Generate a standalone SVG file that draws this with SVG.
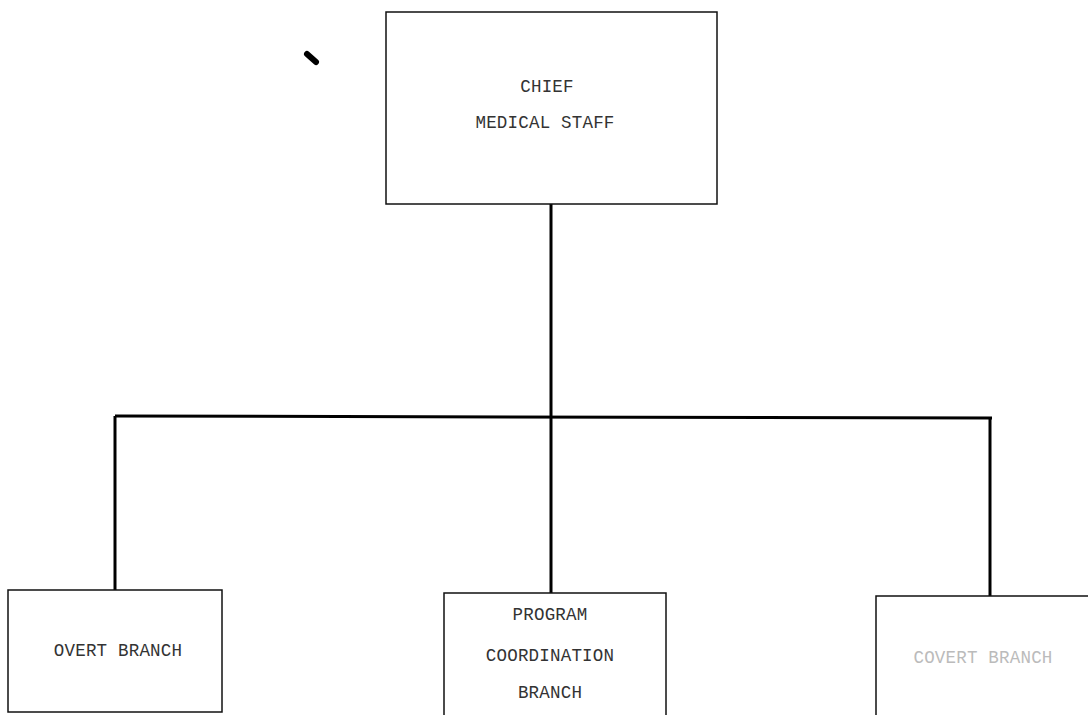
<svg xmlns="http://www.w3.org/2000/svg" width="1088" height="715" viewBox="0 0 1088 715">
<style>
.box{fill:#fff;stroke:#111;stroke-width:1.5}
.conn{stroke:#000;stroke-width:3;fill:none}
text{font-family:"Liberation Mono","DejaVu Sans Mono",monospace;font-size:17.5px;letter-spacing:0.2px;fill:#333;text-anchor:middle}
.faint{fill:#bbb}
</style>
<rect width="1088" height="715" fill="#fff"/>
<line x1="307" y1="54" x2="316" y2="62" stroke="#000" stroke-width="6" stroke-linecap="round"/>
<g id="connectors">
<line class="conn" x1="551" y1="204" x2="551" y2="593"/>
<line class="conn" x1="115" y1="416" x2="992" y2="418"/>
<line class="conn" x1="115" y1="416" x2="115" y2="590"/>
<line class="conn" x1="990" y1="418" x2="990" y2="596"/>
</g>
<g id="chief">
<rect class="box" x="386" y="12" width="331" height="192"/>
<text x="547" y="92">CHIEF</text>
<text x="545" y="128">MEDICAL STAFF</text>
</g>
<g id="overt">
<rect class="box" x="8" y="590" width="214" height="122"/>
<text x="118" y="656">OVERT BRANCH</text>
</g>
<g id="program">
<rect class="box" x="444" y="593" width="222" height="130"/>
<text x="550" y="620">PROGRAM</text>
<text x="550" y="661">COORDINATION</text>
<text x="550" y="698">BRANCH</text>
</g>
<g id="covert">
<rect class="box" x="876" y="596" width="220" height="130"/>
<text class="faint" x="983" y="663">COVERT BRANCH</text>
</g>
</svg>
